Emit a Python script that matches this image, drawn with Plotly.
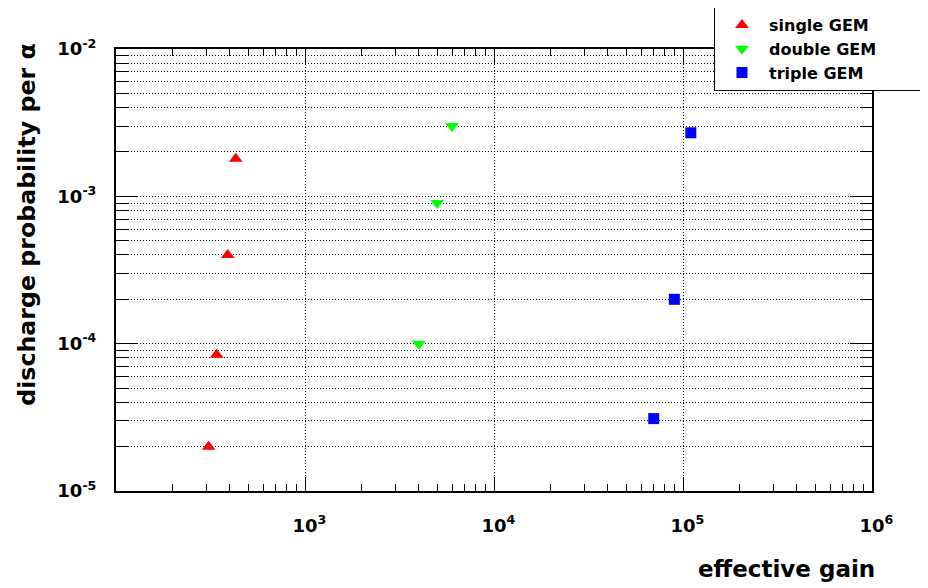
import plotly.graph_objects as go

# ---- data ----
single_gain = [309, 341, 390, 430]
single_prob = [2.0e-5, 8.4e-5, 4.0e-4, 1.8e-3]

double_gain = [4000, 5000, 6000]
double_prob = [1.0e-4, 9.0e-4, 3.0e-3]

triple_gain = [7.0e4, 9.0e4, 1.1e5]
triple_prob = [3.1e-5, 2.0e-4, 2.7e-3]

series_names = ["single GEM", "double GEM", "triple GEM"]

x_tick_vals = [1e3, 1e4, 1e5, 1e6]
x_tick_exp = ["3", "4", "5", "6"]
y_tick_vals = [1e-5, 1e-4, 1e-3, 1e-2]
y_tick_exp = ["-5", "-4", "-3", "-2"]

FONT = "DejaVu Sans"
PAD = "\u00a0" * 8   # widens the legend box so it reaches the right edge, as in the reference

def xlab(e):
    return ("<span style='color:rgba(0,0,0,0)'><sup>%s</sup></span>10<sup>%s</sup>" % (e, e))

fig = go.Figure()
fig.add_trace(go.Scatter(x=single_gain, y=single_prob, mode="markers", name=series_names[0],
                         marker=dict(symbol="triangle-up", color="#ff0000", size=12, line=dict(width=0))))
fig.add_trace(go.Scatter(x=double_gain, y=double_prob, mode="markers", name=series_names[1] + PAD,
                         marker=dict(symbol="triangle-down", color="#00ff00", size=12, line=dict(width=0))))
fig.add_trace(go.Scatter(x=triple_gain, y=triple_prob, mode="markers", name=series_names[2],
                         marker=dict(symbol="square", color="#0000ff", size=11, line=dict(width=0))))

grid_dash = "1px,2px"
fig.update_xaxes(type="log", range=[2, 6],
                 tickvals=x_tick_vals, ticktext=[xlab(e) for e in x_tick_exp],
                 tickfont=dict(family=FONT, size=18, color="black", weight="bold"),
                 ticks="inside", ticklen=14, tickwidth=1, tickcolor="black",
                 showline=True, linecolor="black", linewidth=2, mirror="ticks",
                 showgrid=True, gridcolor="black", gridwidth=1, griddash=grid_dash,
                 ticklabelstandoff=17,
                 minor=dict(ticks="inside", ticklen=7, tickwidth=1, tickcolor="black",
                            dtick="D1", showgrid=False),
                 zeroline=False, automargin=False)
fig.update_yaxes(type="log", range=[-5, -2],
                 tickvals=y_tick_vals, ticktext=["10<sup>%s</sup>" % e for e in y_tick_exp],
                 tickfont=dict(family=FONT, size=18, color="black", weight="bold"),
                 ticks="inside", ticklen=22, tickwidth=1, tickcolor="black",
                 showline=True, linecolor="black", linewidth=2, mirror="ticks",
                 showgrid=True, gridcolor="black", gridwidth=1, griddash=grid_dash,
                 ticklabelstandoff=14,
                 minor=dict(ticks="inside", ticklen=12, tickwidth=1, tickcolor="black",
                            dtick="D1", showgrid=True, gridcolor="black", gridwidth=1,
                            griddash=grid_dash),
                 zeroline=False, automargin=False)

fig.add_annotation(text="effective gain", xref="paper", yref="paper",
                   x=1.006, y=-0.176, xanchor="right", yanchor="middle", showarrow=False,
                   font=dict(family=FONT, size=23, color="black", weight="bold"))
fig.add_annotation(text="discharge probability per α", xref="paper", yref="paper",
                   x=-0.118, y=1.016, xanchor="center", yanchor="top", textangle=-90,
                   showarrow=False,
                   font=dict(family=FONT, size=23.7, color="black", weight="bold"))

# page body has an 8px margin: figure is 920x580, offset by 8px
fig.update_layout(
    width=920, height=580,
    margin=dict(l=108, r=56, t=41, b=97, autoexpand=False),
    paper_bgcolor="white", plot_bgcolor="white",
    showlegend=True,
    legend=dict(x=0.791, y=1.095, xanchor="left", yanchor="top",
                bgcolor="white", bordercolor="black", borderwidth=1,
                font=dict(family=FONT, size=16, color="black", weight="bold"),
                itemwidth=44, tracegroupgap=0),
)

fig.write_html("out.html")
